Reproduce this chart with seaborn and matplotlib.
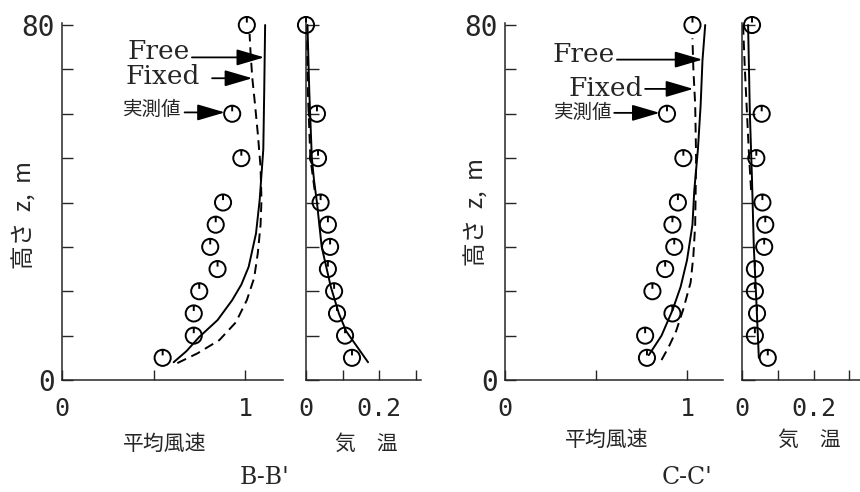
import matplotlib
matplotlib.use("Agg")
import matplotlib.pyplot as plt
from matplotlib.path import Path
import pandas as pd
import seaborn as sns

# ---------------- data ----------------
# measurement heights (m)
obs_z = [80, 60, 50, 40, 35, 30, 25, 20, 15, 10, 5]

# section B-B'
b_wind_obs = [1.01, 0.93, 0.98, 0.88, 0.84, 0.81, 0.85, 0.75, 0.72, 0.72, 0.55]
b_temp_obs = [0.0, 0.03, 0.033, 0.04, 0.06, 0.066, 0.06, 0.077, 0.085, 0.107, 0.126]

b_free_z = [4, 6.5, 9.7, 13.5, 18, 21.5, 25.5, 33, 40.5, 52, 65, 80]
b_free_u = [0.61, 0.68, 0.75, 0.85, 0.93, 0.98, 1.02, 1.06, 1.08, 1.10, 1.105, 1.11]
b_fixed_z = [3.8, 6, 9, 13, 18, 23, 28.6, 35, 40.5, 48, 55.5, 62, 68, 74, 78]
b_fixed_u = [0.63, 0.74, 0.86, 0.95, 1.01, 1.05, 1.07, 1.085, 1.09, 1.085, 1.07,
             1.055, 1.04, 1.03, 1.025]

b_tfree_z = [80, 65, 50, 45, 40, 30, 21, 15, 11, 7.5, 4]
b_tfree_t = [0.004, 0.009, 0.016, 0.022, 0.03, 0.043, 0.068, 0.09, 0.11, 0.14, 0.17]
b_tfixed_z = [80, 65, 50, 42]
b_tfixed_t = [0.001, 0.005, 0.012, 0.025]

# section C-C'
c_wind_obs = [1.03, 0.89, 0.98, 0.95, 0.92, 0.93, 0.88, 0.81, 0.92, 0.77, 0.78]
c_temp_obs = [0.028, 0.055, 0.04, 0.057, 0.065, 0.062, 0.036, 0.036, 0.042, 0.036, 0.072]

c_free_z = [5.6, 10, 15.7, 21, 27, 35, 42.7, 52, 62, 72, 80]
c_free_u = [0.79, 0.86, 0.92, 0.965, 1.0, 1.03, 1.04, 1.06, 1.075, 1.085, 1.10]
c_fixed_z = [4.5, 7.5, 11, 16, 22, 28, 35, 50, 62, 70, 77]
c_fixed_u = [0.86, 0.90, 0.94, 0.98, 1.02, 1.035, 1.045, 1.05, 1.045, 1.035, 1.03]

c_tfree_z = [80, 60, 45, 30, 18, 5]
c_tfree_t = [0.017, 0.022, 0.028, 0.033, 0.04, 0.047]
c_tfixed_z = [80, 70, 60, 50, 42]
c_tfixed_t = [0.003, 0.008, 0.014, 0.02, 0.026]

wind_ticks = [0, 0.5, 1]
wind_ticklabels = ["0", "", "1"]
temp_ticks = [0, 0.1, 0.2, 0.3]
temp_ticklabels = ["0", "", "0.2", ""]
z_ticks = [0, 10, 20, 30, 40, 50, 60, 70, 80]
z_ticklabels = ["0", "", "", "", "", "", "", "", "80"]

# ---------------- style ----------------
sns.set_style("ticks")
plt.rcParams["font.family"] = ["DejaVu Sans", "Noto Sans CJK JP"]
CJK = ["Noto Sans CJK JP", "DejaVu Sans"]
MONO = "DejaVu Sans Mono"
SERIF = "DejaVu Serif"

W, H = 860, 492
fig = plt.figure(figsize=(W / 100, H / 100), dpi=100)

Y_TOP, Y_BOT = 23, 380
ZMAX = 80 * (Y_BOT - Y_TOP) / (Y_BOT - 25)


def add_axes(x0, x1):
    return fig.add_axes([x0 / W, 1 - Y_BOT / H, (x1 - x0) / W, (Y_BOT - Y_TOP) / H])


# circle with a short stem at twelve o'clock
_circ = Path.unit_circle()
_stem = Path([[0, 1.0], [0, 0.3]], [Path.MOVETO, Path.LINETO])
obs_marker = Path.make_compound_path(_circ, _stem)

LW = 1.4
DASH = (0, (5, 3))


def style_axes(ax, xmax, xticks, xlabels, temp=False):
    ax.set_xlim(0, xmax)
    ax.set_ylim(0, ZMAX)
    for s in ("top", "right"):
        ax.spines[s].set_visible(False)
    for s in ("left", "bottom"):
        ax.spines[s].set_linewidth(1.1)
    ax.set_xticks(xticks)
    ax.set_xticklabels(xlabels, fontsize=18, family=MONO)
    ax.set_yticks(z_ticks)
    if temp:
        ax.set_yticklabels([])
        ax.tick_params(axis="y", direction="in", length=9, width=1.0)
    else:
        ax.set_yticklabels(z_ticklabels, fontsize=20, family=MONO)
        ax.tick_params(axis="y", direction="in", length=8, width=1.0, pad=5)
    ax.tick_params(axis="x", direction="in", length=7, width=1.0, pad=12)
    ax.set_xlabel("")
    ax.set_ylabel("")
    ax.patch.set_alpha(0)


def draw_profile(ax, xs, zs, dashed=False):
    df = pd.DataFrame({"x": xs, "z": zs})
    sns.lineplot(data=df, x="x", y="z", sort=False, estimator=None, ax=ax,
                 color="black", lw=LW, linestyle=DASH if dashed else "-")


def draw_obs(ax, xs):
    df = pd.DataFrame({"x": xs, "z": obs_z})
    sns.scatterplot(data=df, x="x", y="z", ax=ax, marker=obs_marker, s=135,
                    facecolor="none", edgecolor="black", linewidth=1.4,
                    zorder=5, clip_on=False)


def arrow(ax, tail, tip):
    ax.annotate("", xy=tip, xytext=tail,
                arrowprops=dict(arrowstyle="-|>,head_length=0.85,head_width=0.25",
                                color="black", lw=1.3, shrinkA=0, shrinkB=0,
                                mutation_scale=20))


def labels(ax, free, fixed, meas):
    (fx, fy), (ftail, ftip, fay) = free
    ax.text(fx, fy, "Free", ha="right", va="center", fontsize=19, family=SERIF)
    arrow(ax, (ftail, fay), (ftip, fay))
    (gx, gy), (gtail, gtip, gay) = fixed
    ax.text(gx, gy, "Fixed", ha="right", va="center", fontsize=19, family=SERIF)
    arrow(ax, (gtail, gay), (gtip, gay))
    (mx, my), (mtail, mtip, may) = meas
    ax.text(mx, my, "実測値", ha="right", va="center", fontsize=14, family=CJK)
    arrow(ax, (mtail, may), (mtip, may))


# ---------------- B-B' ----------------
ax_bw = add_axes(62, 283)
draw_profile(ax_bw, b_free_u, b_free_z)
draw_profile(ax_bw, b_fixed_u, b_fixed_z, dashed=True)
draw_obs(ax_bw, b_wind_obs)
style_axes(ax_bw, 221 / 183, wind_ticks, wind_ticklabels)
labels(ax_bw,
       ((0.70, 74.0), (0.71, 1.105, 72.7)),
       ((0.755, 68.3), (0.82, 1.04, 68.0)),
       ((0.655, 61.0), (0.67, 0.89, 60.3)))

ax_bt = add_axes(306, 421)
draw_profile(ax_bt, b_tfree_t, b_tfree_z)
draw_profile(ax_bt, b_tfixed_t, b_tfixed_z, dashed=True)
draw_obs(ax_bt, b_temp_obs)
style_axes(ax_bt, 115 / 365, temp_ticks, temp_ticklabels, temp=True)

# ---------------- C-C' ----------------
ax_cw = add_axes(505, 723)
draw_profile(ax_cw, c_free_u, c_free_z)
draw_profile(ax_cw, c_fixed_u, c_fixed_z, dashed=True)
draw_obs(ax_cw, c_wind_obs)
style_axes(ax_cw, 218 / 182, wind_ticks, wind_ticklabels)
labels(ax_cw,
       ((0.605, 73.4), (0.615, 1.085, 72.2)),
       ((0.755, 65.8), (0.77, 1.035, 65.6)),
       ((0.59, 60.4), (0.60, 0.85, 60.2)))

ax_ct = add_axes(742, 860)
draw_profile(ax_ct, c_tfree_t, c_tfree_z)
draw_profile(ax_ct, c_tfixed_t, c_tfixed_z, dashed=True)
draw_obs(ax_ct, c_temp_obs)
style_axes(ax_ct, 118 / 358, temp_ticks, temp_ticklabels, temp=True)

# ---------------- axis titles ----------------
def ftext(x, y, s, **kw):
    fig.text(x / W, 1 - y / H, s, ha="center", va="center", **kw)


ftext(25, 215, "高さ  z,  m", rotation=90, fontsize=17, family=CJK)
ftext(476, 212, "高さ  z,  m", rotation=90, fontsize=17, family=CJK)
ftext(165, 444, "平均風速", fontsize=15, family=CJK)
ftext(366, 444, "気　温", fontsize=15, family=CJK)
ftext(607, 440, "平均風速", fontsize=15, family=CJK)
ftext(809, 440, "気　温", fontsize=15, family=CJK)
ftext(265, 478, "B-B'", fontsize=17, family=SERIF)
ftext(687, 478, "C-C'", fontsize=17, family=SERIF)

fig.savefig("out.png", dpi=100)
